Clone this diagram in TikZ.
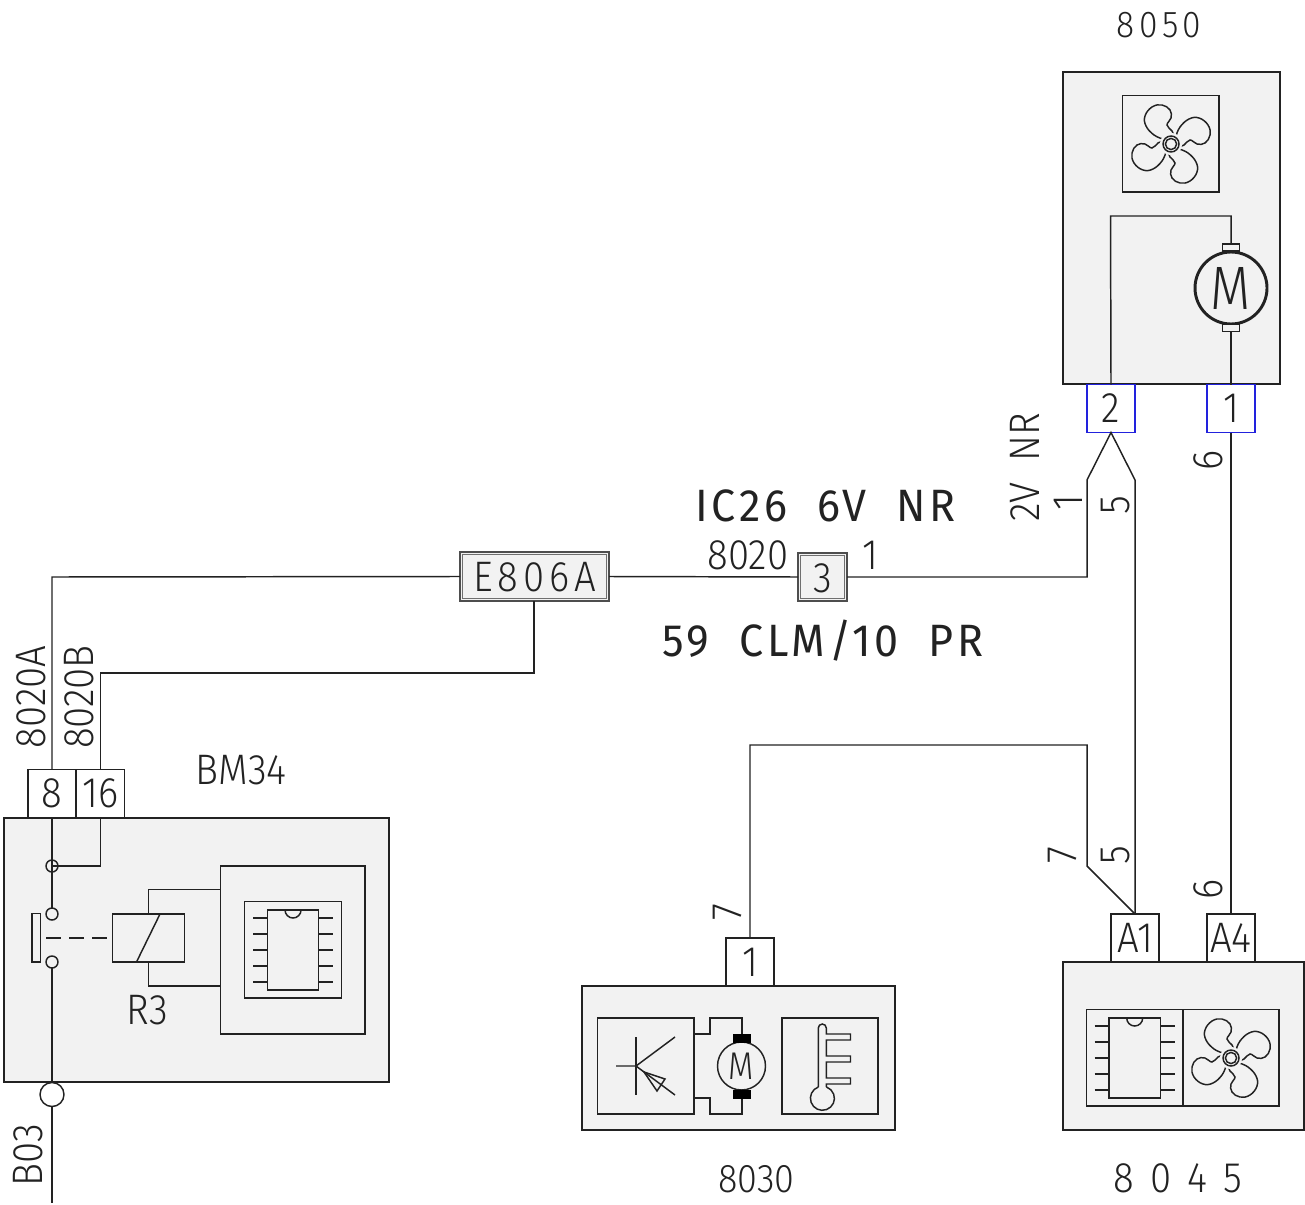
\documentclass[tikz,border=0pt]{standalone}
\usepackage{fontspec}
\setmainfont{Fira Sans Light}
\newfontfamily\cadfont[FakeStretch=0.9]{Fira Sans Light}
\newfontfamily\cadwide[LetterSpace=12,FakeStretch=0.9]{Fira Sans Light}
\newfontfamily\widefont[LetterSpace=38,FakeStretch=0.9]{Fira Sans Light}
\newfontfamily\bigfont[LetterSpace=8,FakeStretch=0.95]{Fira Sans}
\newfontfamily\motorfont[FakeStretch=0.85]{Fira Sans Light}
\usetikzlibrary{fit}
\definecolor{ink}{HTML}{222222}
\definecolor{panel}{HTML}{F2F2F2}
\definecolor{pinblue}{HTML}{2222DD}
\tikzset{
  wire/.style={draw=ink,line width=1.1pt,line join=miter},
  unitbox/.style={draw=ink,fill=panel,line width=1.5pt,inner sep=0pt,outer sep=0pt},
  innerbox/.style={draw=ink,line width=1.2pt,inner sep=0pt,outer sep=0pt},
  pinbox/.style={draw=ink,fill=white,line width=1.1pt,minimum width=36pt,minimum height=36pt,inner sep=0pt,outer sep=0pt,text=ink,font=\cadfont\fontsize{32}{32}\selectfont},
  bluepin/.style={pinbox,draw=pinblue},
  splice/.style={draw=ink!80,fill=panel,line width=.9pt,inner sep=0pt,outer sep=0pt},
  splicein/.style={draw=ink!65,line width=.7pt},
  dot/.style={circle,draw=ink,line width=1.1pt,inner sep=0pt,outer sep=0pt},
  lab/.style={text=ink,inner sep=0pt,font=\cadfont\fontsize{32}{32}\selectfont},
  widelab/.style={text=ink,inner sep=0pt,font=\cadwide\fontsize{32}{32}\selectfont},
  biglab/.style={text=ink,inner sep=0pt,font=\bigfont\fontsize{34}{34}\selectfont},
  sidelab/.style={lab,rotate=90},
}
\newcommand{\fanicon}[2]{%
  \begin{scope}[shift={(#1,#2)}]
    \foreach \a in {0,90,180,270}{
      \draw[wire,rotate=\a] plot[smooth,tension=.7] coordinates {(-8,-5)(-17,-9)(-25,-18)(-26,-28)(-19,-37)(-9,-39)(-1,-34)(0,-26)(-4,-19)(1,-13)(3,-8)};
    }
    \fill[panel] (0,0) circle (8.4pt);
    \draw[wire] (0,0) circle (6pt);
    \draw[wire] (0,0) circle (4.2pt);
  \end{scope}}
\newcommand{\chipicon}[2]{%
  \begin{scope}[shift={(#1,#2)}]
    \draw[wire] (-25.7,-40) rectangle (25.7,40);
    \draw[wire] (-8,-40) arc[start angle=180,end angle=360,radius=6pt];
    \foreach \yy in {-32,-16,0,16,32}{
      \draw[wire] (-40,\yy) -- (-25.7,\yy);
      \draw[wire] (25.7,\yy) -- (40,\yy);
    }
  \end{scope}}
\begin{document}
\begin{tikzpicture}[x=0.75pt,y=-0.75pt]
\useasboundingbox (0,0) rectangle (1305,1205);

% ---- unit boxes
\node[unitbox,fit={(4,817.5)(389,1082)}] (bm) {};
\node[unitbox,fit={(581.5,986)(894.5,1130)}] (u8030) {};
\node[unitbox,fit={(1062.5,962)(1303.5,1130)}] (u8045) {};
\node[unitbox,fit={(1062.5,72)(1279.5,384)}] (u8050) {};

% ---- connector blocks
\node[pinbox] (p8) at (52,793.5) {8};
\node[pinbox,font=\cadfont\fontsize{32}{32}\selectfont] (p16) at (100.5,793.5) {16};
\node[pinbox] (p1a) at (750,962) {1};
\node[pinbox,font=\cadfont\fontsize{32}{32}\selectfont] (pA1) at (1135,938) {A1};
\node[pinbox,font=\cadfont\fontsize{32}{32}\selectfont] (pA4) at (1231,938) {A4};
\node[bluepin] (p2b) at (1111,408.5) {2};
\node[bluepin] (p1b) at (1231,408.5) {1};

% ---- splices
\node[splice,fit={(460,552)(609,601)}] (e806) {};
\draw[splicein] ([shift={(2.2pt,2.2pt)}]e806.south west) rectangle ([shift={(-2.2pt,-2.2pt)}]e806.north east);
\node[text=ink,inner sep=0pt,font=\cadwide\fontsize{32}{32}\selectfont] (e806t) at (535,577) {E806A};
\node[splice,fit={(798,553)(847,601)}] (s3) {};
\draw[splicein] ([shift={(2.2pt,2.2pt)}]s3.south west) rectangle ([shift={(-2.2pt,-2.2pt)}]s3.north east);
\node[text=ink,inner sep=0pt,font=\cadfont\fontsize{32}{32}\selectfont] (s3t) at (822.5,578) {3};

% ---- harness
\coordinate (c1) at (52,577);
\coordinate (c2) at (534,673);
\coordinate (c3) at (100.5,673);
\coordinate (c4) at (1087,577);
\coordinate (c5) at (1087,480);
\coordinate (c6) at (1135,480);
\coordinate (c7) at (750,745);
\coordinate (c8) at (1087,745);
\coordinate (c9) at (1087,866);
\draw[wire] (p8.north) -- (c1) -- (e806.west);
\draw[wire] (e806.east) -- (s3.west);
\draw[wire] (e806.south -| c2) -- (c2) -- (c3) -- (p16.north);
\draw[wire] (s3.east) -- (c4) -- (c5) -- (p2b.south) -- (c6) -- (pA1.north);
\draw[wire] (p1b.south) -- (pA4.north);
\draw[wire] (p1a.north) -- (c7) -- (c8) -- (c9) -- (pA1.north);

% ---- BM34 interior
\node[dot,minimum size=9pt] (k1) at (52,866) {};
\node[dot,minimum size=9pt] (k2) at (52,914) {};
\node[dot,minimum size=9pt] (k3) at (52,962) {};
\node[dot,fill=white,minimum size=18pt] (k4) at (52,1094.5) {};
\draw[wire] (p8.south) -- (k2.north);
\draw[wire] (p16.south) -- (100.5,866) -- (k1.center);
\draw[wire] (k3.south) -- (k4.north);
\coordinate (b03end) at (52,1203);
\draw[wire] (k4.south) -- (b03end);
\draw[wire] (32,913.5) rectangle (40.5,962);
\node[innerbox,fit={(112.5,914)(184.5,962)}] (coil) {};
\draw[wire,dash pattern=on 11.25pt off 6pt,shorten >=4pt] (46,938) -- (coil.west);
\draw[wire] (160,914) -- (136.5,962);
\node[innerbox,fit={(220.5,866)(365,1034)}] (ecu) {};
\draw[wire] (coil.north) -- (148.5,889.5) -- (ecu.west |- 148.5,889.5);
\draw[wire] (coil.south) -- (148.5,986) -- (ecu.west |- 148.5,986);
\draw[innerbox] (244.5,901.5) rectangle (341.5,998);
\chipicon{293}{950}

% ---- 8050 interior
\draw[innerbox] (1122.5,95.5) rectangle (1219,192);
\fanicon{1171}{144}
\node[draw=ink,line width=2.2pt,circle,minimum size=54pt,inner sep=0pt,outer sep=0pt] (mA) at (1231,288) {};
\node[text=ink,inner sep=0pt,font=\motorfont\fontsize{46}{46}\selectfont] (mAt) at (1231,288) {M};
\node[draw=ink,line width=1.1pt,fill=panel,minimum width=13pt,minimum height=5pt,inner sep=0pt,outer sep=0pt] (brA1) at (1231,247.5) {};
\node[draw=ink,line width=1.1pt,fill=panel,minimum width=13pt,minimum height=5pt,inner sep=0pt,outer sep=0pt] (brA2) at (1231,328) {};
\draw[wire] (p2b.north) -- (1110.5,216) -- (1231,216) -- (brA1.north);
\draw[wire] (brA2.south) -- (p1b.north);

% ---- 8030 interior
\node[innerbox,fit={(597.5,1018)(694,1114)}] (tbox) {};
\draw[wire] (636,1037) -- (636,1095);
\draw[wire] (616,1066) -- (636,1066) -- (675,1037);
\draw[wire] (636,1066) -- (675,1095);
\draw[wire] (644,1072) -- (665,1079) -- (657,1091) -- cycle;
\node[dot,minimum size=36pt] (mB) at (741.5,1066) {};
\node[text=ink,inner sep=0pt,font=\motorfont\fontsize{29}{29}\selectfont] (mBt) at (741.5,1066) {M};
\node[fill=black,minimum width=13.5pt,minimum height=7pt,inner sep=0pt,outer sep=0pt] (brB1) at (742,1038.5) {};
\node[fill=black,minimum width=13.5pt,minimum height=7pt,inner sep=0pt,outer sep=0pt] (brB2) at (742,1094.5) {};
\draw[wire] (694,1034) -- (710,1034) -- (710,1018) -- (742,1018) -- (brB1.north);
\draw[wire] (694,1098) -- (710,1098) -- (710,1114) -- (742,1114) -- (brB2.south);
\draw[innerbox] (782,1018) rectangle (878,1114);
\draw[wire] (818.3,1087) -- (818.3,1028) arc[start angle=180,end angle=0,radius=3pt] -- (826.3,1034) -- (850.5,1034) -- (850.5,1040) -- (826.3,1040) -- (826.3,1056) -- (850.5,1056) -- (850.5,1062) -- (826.3,1062) -- (826.3,1078) -- (850.5,1078) -- (850.5,1084) -- (826.3,1084) -- (826.3,1087);
\draw[wire] (818.3,1087) arc[start angle=110,end angle=430,radius=9pt];

% ---- 8045 interior
\draw[innerbox] (1086.5,1009.5) rectangle (1279,1106);
\draw[wire] (1183,1009.5) -- (1183,1106);
\chipicon{1134.7}{1058}
\fanicon{1231}{1058}

% ---- labels
\node[widelab,font=\cadwide\fontsize{28}{28}\selectfont] (t8050) at (1159,25) {8050};
\node[lab,font=\cadfont\fontsize{30}{30}\selectfont] (t8030) at (756.5,1179) {8030};
\node[text=ink,inner sep=0pt,font=\widefont\fontsize{32}{32}\selectfont] (t8045) at (1178,1178) {8045};
\node[lab] (tbm) at (241,770) {BM34};
\node[lab] (tr3) at (147.5,1010) {R3};
\node[biglab] (tic) at (825.5,506) {IC26\ \ 6V\ \ NR};
\node[biglab] (t59) at (823,641) {59\ \ CLM/10\ \ PR};
\node[lab] (t8020) at (748,555) {8020};
\node[lab] (t1c) at (870,555) {1};
\node[sidelab] (t2v) at (1025,467) {2V\ \ NR};
\node[sidelab] (t1d) at (1068,503) {1};
\node[sidelab] (t5a) at (1116,505) {5};
\node[sidelab] (t6a) at (1208,460) {6};
\node[sidelab] (t7a) at (1062,855) {7};
\node[sidelab] (t5b) at (1116,855) {5};
\node[sidelab] (t6b) at (1208,889) {6};
\node[sidelab] (t7b) at (727,912) {7};
\node[sidelab] (t8a) at (31,697) {8020A};
\node[sidelab] (t8b) at (79,697) {8020B};
\node[sidelab] (tb03) at (28,1155) {B03};
\end{tikzpicture}
\end{document}
